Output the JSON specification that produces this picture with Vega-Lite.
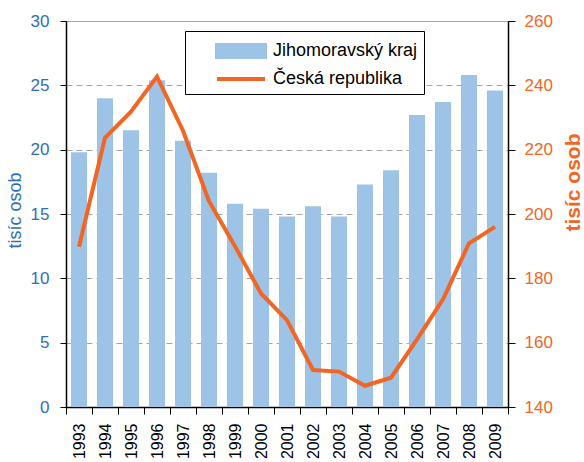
{
  "$schema": "https://vega.github.io/schema/vega-lite/v6.json",
  "width": 442,
  "height": 386,
  "autosize": "none",
  "padding": {"left": 66, "top": 21, "right": 76, "bottom": 55},
  "background": "white",
  "config": {
    "font": "Liberation Sans",
    "view": {"stroke": "#A6A6A6", "strokeWidth": 1}
  },
  "data": {
    "values": [
      {"year": "1993", "jm": 19.8, "cr": 189.8},
      {"year": "1994", "jm": 24.0, "cr": 223.7},
      {"year": "1995", "jm": 21.5, "cr": 231.8},
      {"year": "1996", "jm": 25.4, "cr": 242.7},
      {"year": "1997", "jm": 20.7, "cr": 225.9},
      {"year": "1998", "jm": 18.2, "cr": 204.0},
      {"year": "1999", "jm": 15.8, "cr": 190.0},
      {"year": "2000", "jm": 15.4, "cr": 175.3},
      {"year": "2001", "jm": 14.8, "cr": 167.0},
      {"year": "2002", "jm": 15.6, "cr": 151.5},
      {"year": "2003", "jm": 14.8, "cr": 151.0},
      {"year": "2004", "jm": 17.3, "cr": 146.6},
      {"year": "2005", "jm": 18.4, "cr": 149.1},
      {"year": "2006", "jm": 22.7, "cr": 161.0},
      {"year": "2007", "jm": 23.7, "cr": 173.5},
      {"year": "2008", "jm": 25.8, "cr": 190.9},
      {"year": "2009", "jm": 24.6, "cr": 196.0}
    ]
  },
  "encoding": {
    "x": {
      "field": "year",
      "type": "ordinal",
      "scale": {"paddingInner": 0, "paddingOuter": 0},
      "axis": {
        "title": null,
        "labelAngle": -90,
        "labelFontSize": 16,
        "labelColor": "#000000",
        "labelPadding": 9,
        "tickBand": "extent",
        "tickSize": 7,
        "tickColor": "#000000",
        "domainColor": "#000000",
        "domainWidth": 1.5,
        "grid": false
      }
    }
  },
  "layer": [
    {
      "mark": {"type": "bar", "width": {"band": 0.615}},
      "encoding": {
        "y": {
          "field": "jm",
          "type": "quantitative",
          "scale": {"domain": [0, 30], "nice": false},
          "axis": {
            "values": [0, 5, 10, 15, 20, 25, 30],
            "title": "tisíc osob",
            "titleFontSize": 18,
            "titleFontWeight": "normal",
            "titleColor": "#2F6EBA",
            "titleAngle": 270,
            "titleAlign": "center",
            "titleBaseline": "middle",
            "titleX": -51,
            "titleY": 189,
            "labelFontSize": 17,
            "labelColor": "#2F6EBA",
            "labelPadding": 11,
            "tickSize": 6,
            "tickColor": "#000000",
            "domainColor": "#000000",
            "domainWidth": 1.5,
            "grid": true,
            "gridColor": "#A6A6A6",
            "gridDash": [6, 4],
            "gridWidth": 1
          }
        },
        "color": {
          "datum": "Jihomoravský kraj",
          "scale": {
            "domain": ["Jihomoravský kraj", "Česká republika"],
            "range": ["#9DC3E6", "#F26522"]
          },
          "legend": {
            "title": null,
            "orient": "none",
            "legendX": 119,
            "legendY": 10,
            "padding": 6,
            "symbolOffset": 36,
            "labelOffset": 18,
            "labelFontSize": 18,
            "labelColor": "#000000",
            "rowPadding": 0,
            "strokeColor": "#000000",
            "fillColor": "#FFFFFF",
            "symbolSize": 576,
            "encode": {
              "symbols": {
                "update": {
                  "shape": {"signal": "datum.value === 'Česká republika' ? 'M-2,0H2' : 'M-2,-0.5H2V0.5H-2Z'"},
                  "fill": {"signal": "datum.value === 'Česká republika' ? 'transparent' : '#9DC3E6'"},
                  "stroke": {"signal": "datum.value === 'Česká republika' ? '#F26522' : 'transparent'"},
                  "strokeWidth": {"value": 4},
                  "opacity": {"value": 1},
                  "fillOpacity": {"value": 1},
                  "strokeOpacity": {"value": 1}
                }
              }
            }
          }
        }
      }
    },
    {
      "mark": {"type": "line", "strokeWidth": 4, "strokeJoin": "miter"},
      "encoding": {
        "y": {
          "field": "cr",
          "type": "quantitative",
          "scale": {"domain": [140, 260], "nice": false, "zero": false},
          "axis": {
            "orient": "right",
            "values": [140, 160, 180, 200, 220, 240, 260],
            "title": "tisíc osob",
            "titleFontSize": 21,
            "titleFontWeight": "bold",
            "titleColor": "#F26522",
            "titleAngle": 270,
            "titleAlign": "center",
            "titleBaseline": "middle",
            "titleX": 65,
            "titleY": 161,
            "labelFontSize": 17,
            "labelColor": "#F26522",
            "labelPadding": 9,
            "tickSize": 7,
            "tickColor": "#000000",
            "domainColor": "#000000",
            "domainWidth": 1.5,
            "grid": false
          }
        },
        "color": {"datum": "Česká republika"}
      }
    }
  ],
  "resolve": {"scale": {"y": "independent"}}
}
